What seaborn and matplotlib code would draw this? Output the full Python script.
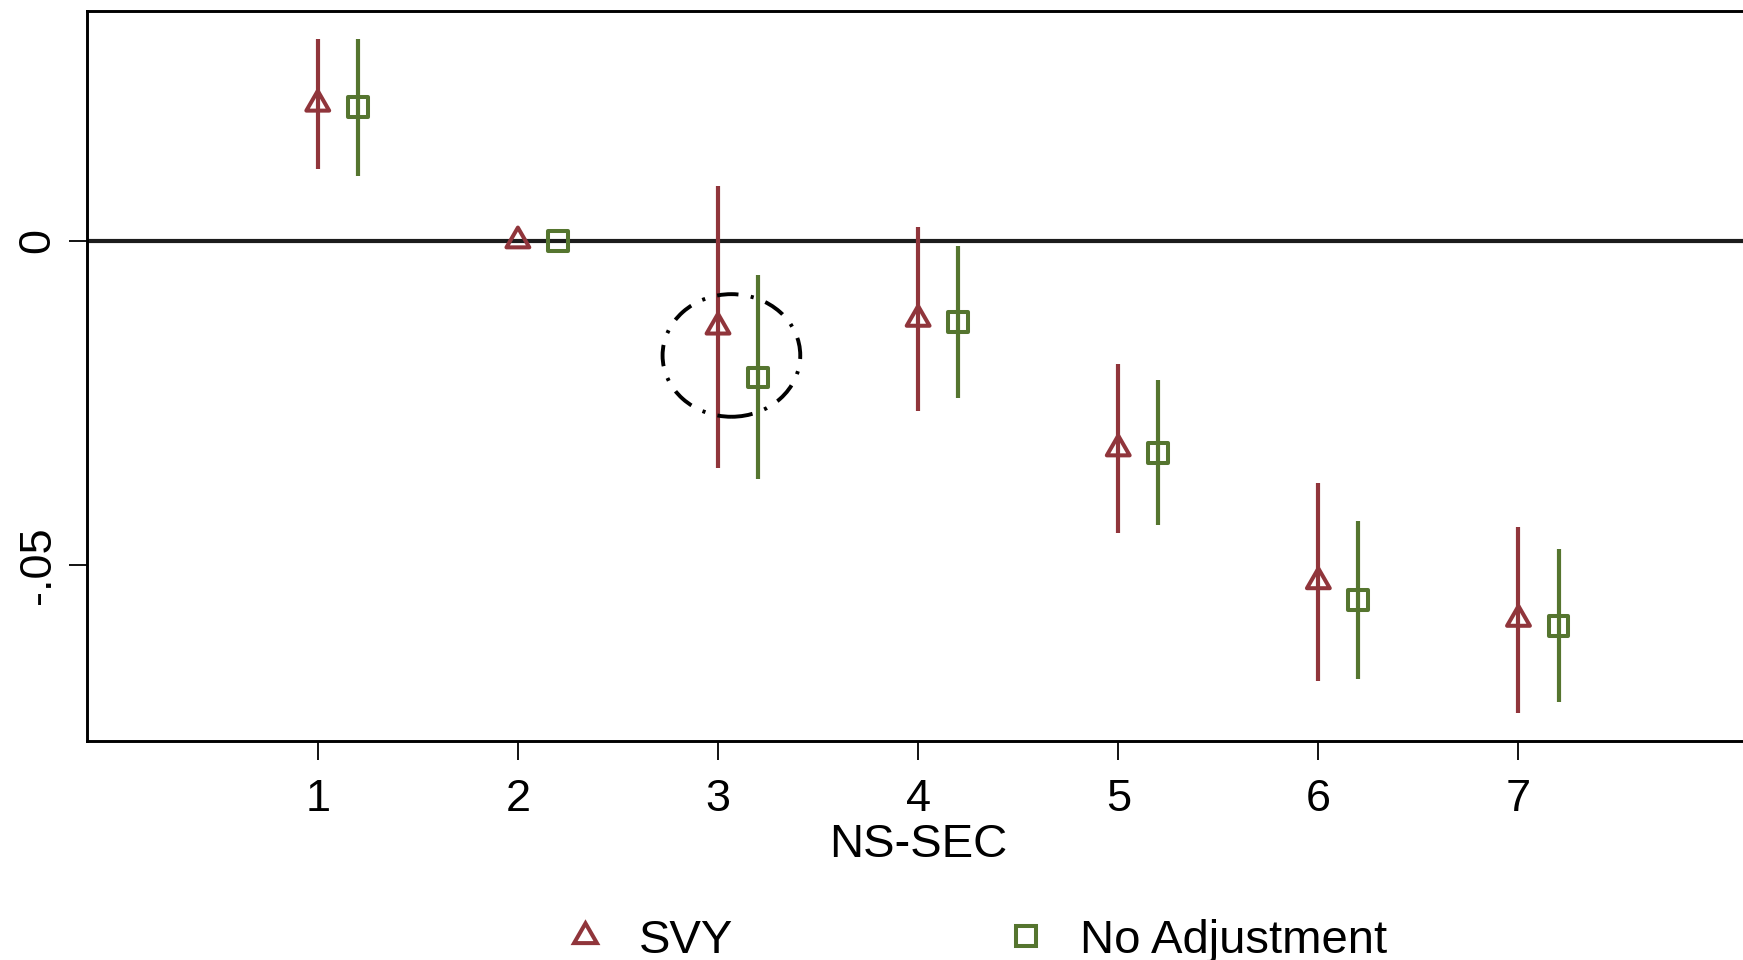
import numpy as np
import pandas as pd
import matplotlib
matplotlib.use("Agg")
import matplotlib.pyplot as plt
from matplotlib.lines import Line2D
from matplotlib.patches import Ellipse
import seaborn as sns

# ---- data ----
nssec = [1, 2, 3, 4, 5, 6, 7]
series_names = ["SVY", "No Adjustment"]

svy_est = [0.0211, 0.0, -0.0133, -0.0121, -0.0321, -0.0526, -0.0584]
svy_lo = [0.0110, 0.0, -0.0351, -0.0263, -0.0451, -0.0679, -0.0728]
svy_hi = [0.0311, 0.0, 0.0084, 0.0022, -0.0190, -0.0374, -0.0441]

noadj_est = [0.0206, 0.0, -0.0211, -0.0125, -0.0327, -0.0555, -0.0595]
noadj_lo = [0.0100, 0.0, -0.0368, -0.0243, -0.0439, -0.0676, -0.0712]
noadj_hi = [0.0311, 0.0, -0.0053, -0.0008, -0.0215, -0.0433, -0.0476]

xticks = [1, 2, 3, 4, 5, 6, 7]
yticks = [0, -0.05]
ytick_labels = ["0", "-.05"]

# highlighted region (dash-dot ellipse around group 3)
circle_center = (3.067, -0.0177)
circle_radius = (0.344, 0.00946)

# ---- style ----
sns.set_theme(style="white")
plt.rcParams["font.family"] = ["Liberation Sans", "DejaVu Sans"]
plt.rcParams["text.color"] = "black"
plt.rcParams["axes.labelcolor"] = "black"

RED = "#90353B"    # Stata maroon
GREEN = "#55752F"  # Stata forest_green
offsets = {"SVY": 0.0, "No Adjustment": 0.2}
colors = {"SVY": RED, "No Adjustment": GREEN}
tri = (3, 0, 0)
markers = {"SVY": tri, "No Adjustment": "s"}

rows = []
for name, est, lo, hi in [("SVY", svy_est, svy_lo, svy_hi),
                          ("No Adjustment", noadj_est, noadj_lo, noadj_hi)]:
    for x, e, l, h in zip(nssec, est, lo, hi):
        rows.append(dict(series=name, nssec=x, pos=x + offsets[name], est=e, lo=l, hi=h))
df = pd.DataFrame(rows)

fig = plt.figure(figsize=(17.43, 9.60), dpi=100)
ax = fig.add_axes([0.0497, 0.2281, 0.9541, 0.7604])

# zero reference line
ax.axhline(0, color="#1c1c1c", lw=3.0, zorder=1)

# confidence intervals
for name in series_names:
    sub = df[df.series == name]
    ax.vlines(sub["pos"], sub["lo"], sub["hi"], color=colors[name], lw=3.0, zorder=2)

# point estimates (hollow markers)
for name, size in [("SVY", 360), ("No Adjustment", 205)]:
    sub = df[df.series == name]
    sns.scatterplot(data=sub, x="pos", y="est", marker=markers[name], s=size,
                    color=colors[name], ax=ax, legend=False, zorder=3)
for coll in ax.collections:
    if coll.__class__.__name__ == "PathCollection":
        fc = coll.get_facecolors()
        coll.set_edgecolors(fc)
        coll.set_facecolors("none")
        coll.set_linewidths(2.9)

# dash-dot ellipse
ell = Ellipse(circle_center, 2 * circle_radius[0], 2 * circle_radius[1],
              fill=False, edgecolor="black", lw=2.8,
              linestyle=(0, (5.5, 3.2, 0.8, 3.2)), zorder=4)
ax.add_patch(ell)

ax.set_xlim(-0.155, 8.155)
ax.set_ylim(-0.0772, 0.03545)

ax.set_xticks(xticks)
ax.set_xticklabels([str(t) for t in xticks])
ax.set_yticks(yticks)
ax.set_yticklabels(ytick_labels)

ax.tick_params(axis="x", direction="out", length=13.7, width=1.3, pad=13.5,
               labelsize=32.5, colors="black", bottom=True)
ax.tick_params(axis="y", direction="out", length=13.0, width=1.3, pad=7.2,
               labelsize=32.5, colors="black", left=True, labelrotation=90)
for lab in ax.get_yticklabels():
    lab.set_va("center")

for sp in ax.spines.values():
    sp.set_visible(True)
    sp.set_color("black")
    sp.set_linewidth(2.1)

ax.set_xlabel("NS-SEC", fontsize=34, color="black")
ax.set_ylabel("")
ax.xaxis.set_label_coords(0.5, -0.112)
ax.xaxis.label.set_va("top")

# legend
handles = [
    Line2D([], [], linestyle="none", marker=tri, markersize=19, markerfacecolor="none",
           markeredgecolor=RED, markeredgewidth=2.9),
    Line2D([], [], linestyle="none", marker="s", markersize=14.3, markerfacecolor="none",
           markeredgecolor=GREEN, markeredgewidth=2.9),
]
leg = fig.legend(handles, series_names, loc="lower left",
                 bbox_to_anchor=((585 - 23.6) / 1743, -0.003), ncol=2, frameon=False,
                 fontsize=34, handlelength=1.0, handletextpad=0.65, columnspacing=5.68,
                 borderpad=0, borderaxespad=0)
for t in leg.get_texts():
    t.set_color("black")

fig.savefig("out.png", dpi=100)
